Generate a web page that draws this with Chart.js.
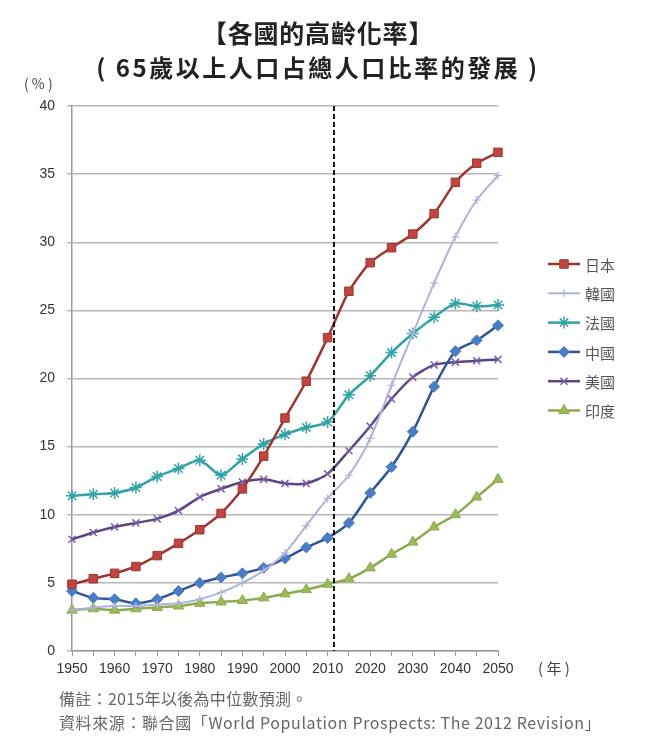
<!DOCTYPE html>
<html>
<head>
<meta charset="utf-8">
<script src="https://cdn.jsdelivr.net/npm/chart.js@4.4.1/dist/chart.umd.min.js"></script>
<style>
  html, body { margin: 0; padding: 0; background: #fff; }
  body { width: 650px; height: 747px; position: relative; overflow: hidden; font-family: 'Noto Sans CJK TC', 'Noto Sans', sans-serif; }
  #wrap { position: absolute; left: 0; top: 0; width: 650px; height: 747px; }
  .t { position: absolute; white-space: nowrap; }
  #t1 { left: 0; width: 636px; top: 15px; text-align: center; font-size: 25px; font-weight: bold; color: #222; line-height: 34px; letter-spacing: 0.8px; }
  #t2 { left: 0; width: 636px; top: 50px; text-align: center; font-size: 24px; font-weight: bold; color: #222; line-height: 34px; letter-spacing: 2.5px; }
  #pct { left: 24px; top: 73px; font-size: 14px; color: #444; line-height: 20px; }
  #nian { left: 538px; top: 658px; font-size: 15px; color: #444; line-height: 20px; }
  #n1 { left: 59px; top: 687px; font-size: 16px; color: #666; line-height: 22px; letter-spacing: 0.3px; }
  #n2 { left: 59px; top: 711px; font-size: 16px; color: #666; line-height: 22px; letter-spacing: 0.6px; }
</style>
</head>
<body>
<div id="wrap"><canvas id="c" width="650" height="747"></canvas></div>
<div class="t" id="t1">【各國的高齡化率】</div>
<div class="t" id="t2">(&nbsp;65歲以上人口占總人口比率的發展&nbsp;)</div>
<div class="t" id="pct">(&nbsp;%&nbsp;)</div>
<div class="t" id="nian">(&nbsp;年&nbsp;)</div>
<div class="t" id="n1">備註：2015年以後為中位數預測。</div>
<div class="t" id="n2">資料來源：聯合國「World Population Prospects: The 2012 Revision」</div>
<script>
// ---- data ----
const years  = [1950,1955,1960,1965,1970,1975,1980,1985,1990,1995,2000,2005,2010,2015,2020,2025,2030,2035,2040,2045,2050];
const japan  = [4.9,5.3,5.7,6.2,7.0,7.9,8.9,10.1,11.9,14.3,17.1,19.8,23.0,26.4,28.5,29.6,30.6,32.1,34.4,35.8,36.6];
const korea  = [3.0,3.2,3.3,3.3,3.4,3.5,3.8,4.3,5.0,5.9,7.2,9.2,11.2,12.9,15.6,19.5,23.3,27.0,30.4,33.1,34.9];
const france = [11.4,11.5,11.6,12.0,12.8,13.4,14.0,12.9,14.1,15.2,15.9,16.4,16.8,18.8,20.2,21.9,23.3,24.5,25.5,25.3,25.4];
const china  = [4.4,3.9,3.8,3.5,3.8,4.4,5.0,5.4,5.7,6.1,6.8,7.6,8.3,9.4,11.6,13.5,16.1,19.4,22.0,22.8,23.9];
const usa    = [8.2,8.7,9.1,9.4,9.7,10.3,11.3,11.9,12.4,12.6,12.3,12.3,13.0,14.7,16.5,18.5,20.1,21.0,21.2,21.3,21.4];
const india  = [3.0,3.1,3.0,3.1,3.2,3.3,3.5,3.6,3.7,3.9,4.2,4.5,4.9,5.3,6.1,7.1,8.0,9.1,10.0,11.3,12.6];
const seriesNames = ['日本','韓國','法國','中國','美國','印度'];
const xTickLabels = [1950,1960,1970,1980,1990,2000,2010,2020,2030,2040,2050];
const yTickLabels = [0,5,10,15,20,25,30,35,40];
const dividerYear = 2011.5;

const pts = arr => years.map((yr, i) => ({ x: yr, y: arr[i] }));

function ds(label, arr, line, fill, border, style, radius, bw, rot) {
  return {
    label, data: pts(arr),
    borderColor: line, borderWidth: 2.5,
    pointStyle: style, pointRadius: radius, pointHoverRadius: radius,
    pointBackgroundColor: fill, pointBorderColor: border, pointBorderWidth: bw,
    pointRotation: rot || 0,
    tension: 0.25, clip: false, fill: false
  };
}

const datasets = [
  ds(seriesNames[0], japan,  '#9C3533', '#C0443F', '#9C3533', 'rect', 6, 1, 0),
  ds(seriesNames[1], korea,  '#AEB3DA', '#AEB3DA', '#AEB3DA', 'cross', 4, 1.2, 0),
  ds(seriesNames[2], france, '#33A3A5', '#33A3A5', '#33A3A5', 'star', 6, 1.5, 0),
  ds(seriesNames[3], china,  '#2F5597', '#4A7DC4', '#4A7DC4', 'rectRot', 5.5, 1, 0),
  ds(seriesNames[4], usa,    '#5C4585', '#7A60A3', '#7A60A3', 'crossRot', 5, 1.5, 0),
  ds(seriesNames[5], india,  '#8DAA4E', '#9BBB59', '#8DAA4E', 'triangle', 6, 1, 0)
];
datasets[1].borderWidth = 2;

const dividerPlugin = {
  id: 'divider',
  afterDatasetsDraw(chart) {
    const { ctx, chartArea, scales } = chart;
    const x = scales.x.getPixelForValue(dividerYear);
    ctx.save();
    ctx.strokeStyle = '#111';
    ctx.lineWidth = 2;
    ctx.setLineDash([5, 3]);
    ctx.beginPath();
    ctx.moveTo(x, chartArea.top);
    ctx.lineTo(x, chartArea.bottom);
    ctx.stroke();
    ctx.restore();
  }
};

const legendPlugin = {
  id: 'customLegend',
  afterDraw(chart) {
    const { ctx } = chart;
    const x0 = 548, x1 = 580, ty0 = 264, gap = 29.3;
    chart.data.datasets.forEach((d, i) => {
      const y = ty0 + i * gap;
      ctx.save();
      ctx.strokeStyle = d.borderColor;
      ctx.lineWidth = d.borderWidth;
      ctx.beginPath();
      ctx.moveTo(x0, y); ctx.lineTo(x1, y); ctx.stroke();
      ctx.fillStyle = d.pointBackgroundColor;
      ctx.strokeStyle = d.pointBorderColor;
      ctx.lineWidth = d.pointBorderWidth;
      Chart.helpers.drawPoint(ctx, { pointStyle: d.pointStyle, rotation: 0, radius: d.pointRadius, borderWidth: d.pointBorderWidth }, (x0 + x1) / 2, y);
      ctx.fillStyle = '#555';
      ctx.font = "15px 'Noto Sans CJK TC', sans-serif";
      ctx.textBaseline = 'middle';
      ctx.textAlign = 'left';
      ctx.fillText(d.label, x1 + 5, y + 1);
      ctx.restore();
    });
  }
};

Chart.defaults.font.family = "'Liberation Sans', 'Noto Sans CJK TC', sans-serif";

new Chart(document.getElementById('c'), {
  type: 'line',
  data: { datasets },
  options: {
    responsive: false,
    animation: false,
    events: [],
    layout: { padding: { left: 0, right: 152, top: 106, bottom: 0 } },
    plugins: { legend: { display: false }, tooltip: { enabled: false }, title: { display: false } },
    scales: {
      x: {
        type: 'linear', min: 1950, max: 2050,
        afterFit(s) { s.height = 96; },
        afterBuildTicks(s) { s.ticks = years.map(v => ({ value: v })); },
        ticks: {
          autoSkip: false, maxRotation: 0, padding: 5,
          color: '#333', font: { size: 14 },
          callback: v => (xTickLabels.includes(v) ? String(v) : '')
        },
        grid: { drawOnChartArea: false, drawTicks: true, tickLength: 5, color: '#999', lineWidth: 1 },
        border: { color: '#999', width: 1.5 }
      },
      y: {
        min: 0, max: 40,
        afterFit(s) { s.width = 72; },
        afterBuildTicks(s) { s.ticks = yTickLabels.map(v => ({ value: v })); },
        ticks: { color: '#333', font: { size: 14 }, padding: 12 },
        grid: { color: '#B8B8B8', lineWidth: 1.5, tickLength: 5 },
        border: { color: '#999', width: 1.5 }
      }
    }
  },
  plugins: [dividerPlugin, legendPlugin]
});
</script>
</body>
</html>
